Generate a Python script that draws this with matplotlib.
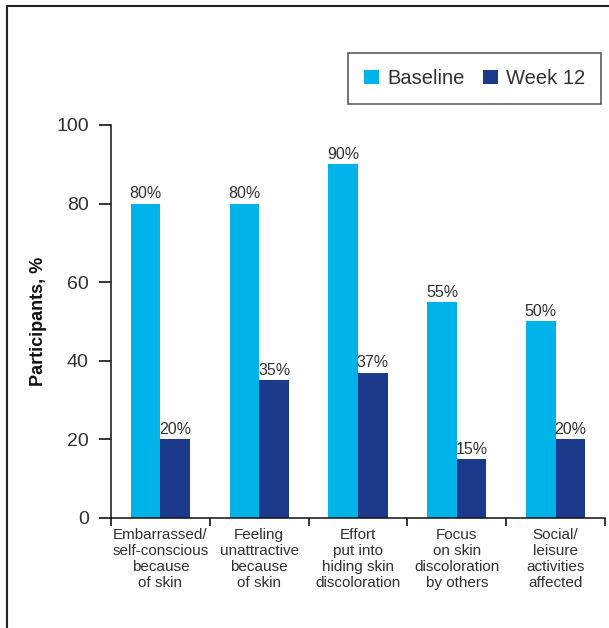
"""Grouped bar chart: participants reporting skin-related impact, baseline vs week 12."""
import matplotlib
matplotlib.use("Agg")
import matplotlib.pyplot as plt
import numpy as np
from matplotlib.lines import Line2D

categories = [
    "Embarrassed/\nself-conscious\nbecause\nof skin",
    "Feeling\nunattractive\nbecause\nof skin",
    "Effort\nput into\nhiding skin\ndiscoloration",
    "Focus\non skin\ndiscoloration\nby others",
    "Social/\nleisure\nactivities\naffected",
]
baseline = [80, 80, 90, 55, 50]
week12 = [20, 35, 37, 15, 20]
series_names = ["Baseline", "Week 12"]
yticks = [0, 20, 40, 60, 80, 100]

CYAN = "#00B2EA"
NAVY = "#1B3A8B"
TEXT = "#303030"

plt.rcParams["font.family"] = ["Liberation Sans", "DejaVu Sans"]

fig = plt.figure(figsize=(6.09, 6.28), dpi=100)
ax = fig.add_axes([0.1823, 0.1752, 0.8111, 0.6258])

x = np.arange(len(categories))
w = 0.30
b1 = ax.bar(x - w / 2, baseline, width=w, color=CYAN, label=series_names[0])
b2 = ax.bar(x + w / 2, week12, width=w, color=NAVY, label=series_names[1])

for bars, vals in ((b1, baseline), (b2, week12)):
    for rect, v in zip(bars, vals):
        ax.annotate(f"{v}%", (rect.get_x() + rect.get_width() / 2, v),
                    xytext=(0, 1.5), textcoords="offset points",
                    ha="center", va="bottom", fontsize=11.5, color=TEXT)

ax.set_xlim(-0.5, len(categories) - 0.5)
ax.set_ylim(0, 100)
ax.set_yticks(yticks)
ax.tick_params(axis="y", length=9, width=1.1, pad=7, labelsize=14, labelcolor=TEXT)

# category names centred under each group, tick marks between groups
ax.set_xticks(x)
ax.set_xticklabels(categories, fontsize=11, color=TEXT, linespacing=1.17)
ax.tick_params(axis="x", which="major", length=0, pad=7.5)
ax.set_xticks(np.arange(-0.5, len(categories)), minor=True)
ax.tick_params(axis="x", which="minor", length=6, width=1.1, direction="out")

for side in ("top", "right"):
    ax.spines[side].set_visible(False)
for side in ("left", "bottom"):
    ax.spines[side].set_linewidth(1.1)
    ax.spines[side].set_color("#111111")

ax.set_ylabel("Participants, %", fontsize=13, fontweight="bold", color="#111111")
ax.yaxis.set_label_coords(-0.13, 0.5)

leg = fig.legend(loc="upper right", bbox_to_anchor=(0.987, 0.9156),
                 bbox_transform=fig.transFigure, ncol=2, fontsize=14.5,
                 frameon=True, fancybox=False, borderaxespad=0,
                 handlelength=0.75, handleheight=0.75, handletextpad=0.4,
                 columnspacing=0.9, borderpad=0.8)
leg.get_frame().set_edgecolor("#333333")
leg.get_frame().set_linewidth(1.2)
for t in leg.get_texts():
    t.set_color(TEXT)

# panel border along the left and top edges
fig.add_artist(Line2D([0.0115, 0.0115], [0.0, 0.9904], transform=fig.transFigure,
                      color="#222222", linewidth=1.5))
fig.add_artist(Line2D([0.0115, 1.0], [0.9904, 0.9904], transform=fig.transFigure,
                      color="#222222", linewidth=1.5))

fig.savefig("out.png", dpi=100)
